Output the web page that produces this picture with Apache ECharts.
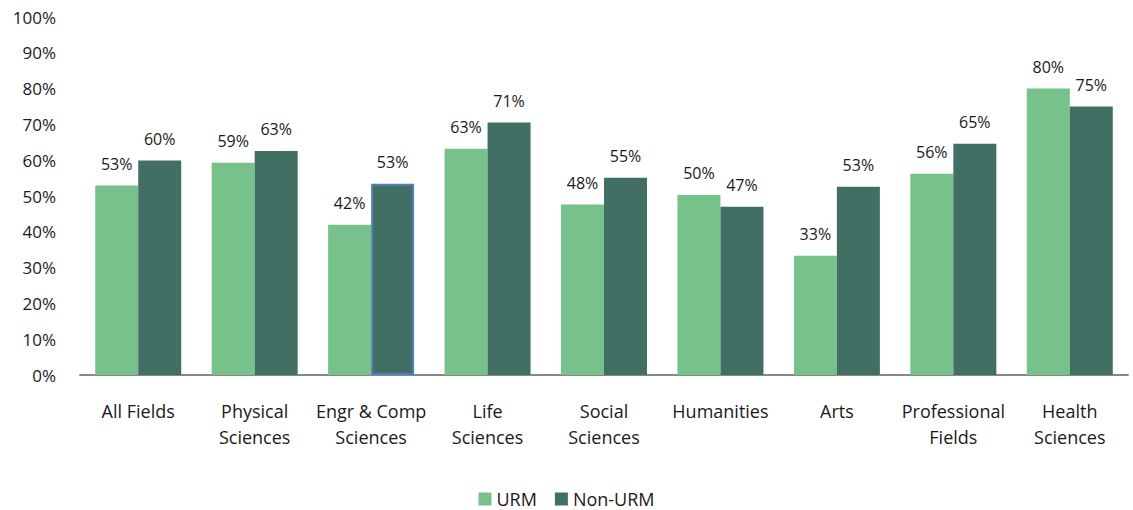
<!DOCTYPE html>
<html>
<head>
<meta charset="utf-8">
<script src="https://cdn.jsdelivr.net/npm/echarts@6/dist/echarts.min.js"></script>
<style>
  html, body { margin: 0; padding: 0; background: #fff; }
  #chart { width: 1133px; height: 510px; }
</style>
</head>
<body>
<div id="chart"></div>
<script>
// fields and shares (percent)
var categories = ['All Fields', 'Physical\nSciences', 'Engr & Comp\nSciences', 'Life\nSciences',
  'Social\nSciences', 'Humanities', 'Arts', 'Professional\nFields', 'Health\nSciences'];
var urm = [52.9, 59.3, 42.0, 63.2, 47.6, 50.3, 33.3, 56.2, 80.0];
var nonUrm = [59.9, 62.6, 53.4, 70.5, 55.1, 47.0, 52.6, 64.6, 75.0];
var yTicks = [0, 10, 20, 30, 40, 50, 60, 70, 80, 90, 100];

(function() {
  var green = '#76c28a';
  var dark = '#426f63';
  var ink = '#1a1a1a';
  var font = 'Open Sans';

  var chart = echarts.init(document.getElementById('chart'), null, { renderer: 'svg' });

  var darkData = nonUrm.map(function(v, i) {
    // the Engr bar has a blue outline in the source
    if (i === 2) return { value: v, itemStyle: { borderColor: '#4f7fc0', borderWidth: 2 } };
    return v;
  });

  var label = {
    show: true,
    position: 'top',
    distance: 14,
    color: ink,
    fontFamily: font,
    fontSize: 16,
    formatter: function(p) { return Math.round(p.value) + '%'; }
  };

  chart.setOption({
    animation: false,
    textStyle: { fontFamily: font },
    legend: {
      top: 485,
      left: 'center',
      itemWidth: 13, itemHeight: 13,
      itemGap: 18,
      icon: 'rect',
      textStyle: { color: ink, fontSize: 18, fontFamily: font },
      data: ['URM', 'Non-URM']
    },
    grid: { left: 80, right: 5, top: 17, bottom: 135 },
    xAxis: {
      type: 'category',
      data: categories,
      axisTick: { show: false },
      axisLine: { lineStyle: { color: '#888', width: 2 } },
      axisLabel: { color: ink, fontSize: 18, fontFamily: font, margin: 23, lineHeight: 26, interval: 0 }
    },
    yAxis: {
      type: 'value',
      min: 0, max: 100, interval: 10,
      splitLine: { show: false },
      axisLine: { show: false },
      axisTick: { show: false },
      axisLabel: {
        color: ink, fontSize: 17, fontFamily: font, margin: 24,
        formatter: function(v) { return yTicks.indexOf(v) >= 0 ? v + '%' : ''; }
      }
    },
    series: [
      { name: 'URM', type: 'bar', data: urm, barWidth: 43, barGap: '0%', itemStyle: { color: green }, label: label },
      { name: 'Non-URM', type: 'bar', data: darkData, barWidth: 43, itemStyle: { color: dark }, label: label }
    ]
  });
})();
</script>
</body>
</html>
